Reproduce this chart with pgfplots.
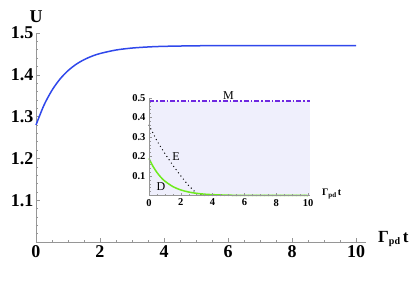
\documentclass[border=0pt]{standalone}
\usepackage{pgfplots}
\pgfplotsset{compat=1.18}
\usepackage{fontspec}
\setmainfont{Liberation Serif}
\definecolor{ublue}{RGB}{48,72,235}
\definecolor{dgreen}{RGB}{110,235,30}
\definecolor{mpurple}{RGB}{110,40,225}
\definecolor{fillc}{RGB}{239,239,252}
\definecolor{axgray}{RGB}{150,150,150}
\begin{document}
\begin{tikzpicture}
\useasboundingbox (-36pt,-39pt) rectangle (379pt,242pt);
\begin{axis}[at={(0pt,0pt)}, anchor=south west, scale only axis,
  width=329.6pt, height=209pt,
  xmin=0, xmax=10.3, ymin=1, ymax=1.5,
  axis x line=bottom, axis y line=left,
  axis line style={-, draw=axgray, line width=0.6pt},
  tick align=inside, tick style={axgray, line width=0.5pt},
  major tick length=4pt, minor tick length=2.5pt,
  xtick={0,2,...,10},
  minor xtick={0.5,1,1.5,2.5,3,3.5,4.5,5,5.5,6.5,7,7.5,8.5,9,9.5},
  ytick={1.1,1.2,1.3,1.4,1.5},
  minor ytick={1.02,1.04,1.06,1.08,1.12,1.14,1.16,1.18,1.22,1.24,1.26,1.28,1.32,1.34,1.36,1.38,1.42,1.44,1.46,1.48},
  tick label style={font=\bfseries\fontsize{18}{18}\selectfont, text=black},
  yticklabel style={xshift=1pt},
  /pgf/number format/assume math mode=true,
  /pgf/number format/fixed, /pgf/number format/precision=1,
  clip=false]
\addplot[ublue, line width=1.5pt, smooth] coordinates {
(0,1.28) (0.25,1.3275) (0.5,1.363) (0.75,1.3898) (1,1.4098) (1.25,1.4249)
(1.5,1.4361) (1.75,1.4446) (2,1.4509) (2.5,1.4593) (3,1.4640) (3.5,1.4666)
(4,1.4681) (5,1.4694) (6,1.4698) (8,1.47) (10,1.47)};
\node[anchor=base, font=\bfseries\fontsize{18}{18}\selectfont] at (rel axis cs:0,1) [yshift=10pt] {U};
\node[anchor=base west, font=\bfseries\fontsize{17}{17}\selectfont] at (rel axis cs:1,0) [xshift=9pt] {Γ\raisebox{-0.35ex}{\fontsize{10}{10}\selectfont pd}\,t};
\end{axis}
\begin{axis}[at={(113pt,46.5pt)}, anchor=south west, scale only axis,
  width=160.6pt, height=97.5pt,
  xmin=0, xmax=10.1, ymin=0, ymax=0.5,
  axis x line=bottom, axis y line=left, axis on top,
  axis line style={-, draw=axgray, line width=0.6pt},
  tick align=inside, tick style={axgray, line width=0.5pt},
  major tick length=3pt, minor tick length=1.8pt,
  xtick={0,2,...,10},
  minor xtick={0.5,1,1.5,2.5,3,3.5,4.5,5,5.5,6.5,7,7.5,8.5,9,9.5},
  ytick={0.1,0.2,0.3,0.4,0.5},
  minor ytick={0.02,0.04,0.06,0.08,0.12,0.14,0.16,0.18,0.22,0.24,0.26,0.28,0.32,0.34,0.36,0.38,0.42,0.44,0.46,0.48},
  tick label style={font=\bfseries\fontsize{10.5}{10.5}\selectfont, text=black},
  /pgf/number format/assume math mode=true,
  /pgf/number format/fixed, /pgf/number format/precision=1,
  clip=false]
\addplot[fill=fillc, draw=none] coordinates {(0,0.485) (10.1,0.485)} \closedcycle;
\addplot[mpurple, line width=1.2pt, dash pattern=on 5pt off 2pt on 1.5pt off 2pt] coordinates {(0,0.485) (10.1,0.485)};
\addplot[black, line width=1.4pt, dash pattern=on 0pt off 4pt, line cap=round] coordinates {
(0,0.36) (0.5,0.28) (1,0.215) (1.5,0.155) (2,0.1) (2.5,0.05) (3,0.01) (3.5,0) (10,0)};
\addplot[dgreen, line width=1.5pt, smooth] coordinates {
(0,0.19) (0.25,0.1498) (0.5,0.1182) (0.75,0.0932) (1,0.0735) (1.5,0.0457)
(2,0.0284) (2.5,0.0177) (3,0.0110) (3.5,0.0068) (4,0.0043) (5,0.0016)
(6,0.0006) (8,0.0001) (10,0)};
\node[anchor=south, font=\fontsize{12}{12}\selectfont, inner sep=1pt] at (axis cs:5,0.485) {M};
\node[font=\fontsize{12}{12}\selectfont] at (axis cs:1.7,0.2) {E};
\node[font=\fontsize{12}{12}\selectfont] at (axis cs:0.75,0.045) {D};
\node[anchor=base west, font=\bfseries\fontsize{10}{10}\selectfont] at (rel axis cs:1,0) [xshift=9pt] {Γ\raisebox{-0.35ex}{\fontsize{7}{7}\selectfont pd}\,t};
\end{axis}
\end{tikzpicture}
\end{document}
